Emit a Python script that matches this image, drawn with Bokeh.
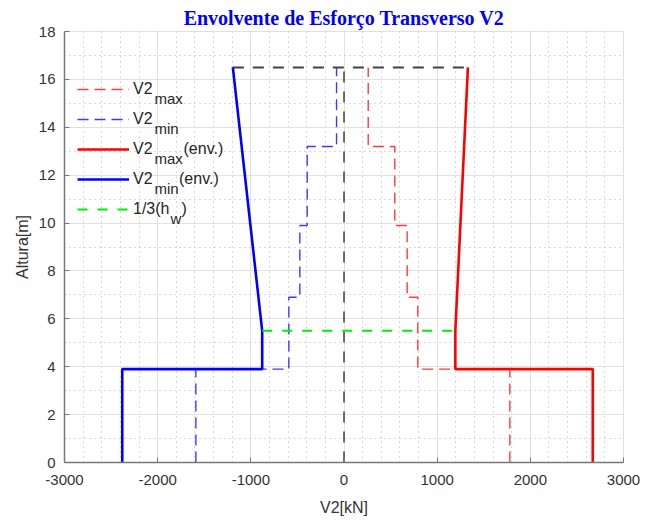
from bokeh.plotting import figure
from bokeh.models import Legend, LegendItem, Label, Range1d, SingleIntervalTicker
from bokeh.embed import file_html
from bokeh.resources import INLINE

# ---------------- data ----------------
storey_levels = [0.0, 3.9, 6.9, 9.9, 13.2, 16.5]      # Altura [m]
v2_max = [1780, 792, 678, 545, 260]                   # V2max per storey [kN]
v2_min = [-1590, -592, -474, -395, -80]               # V2min per storey [kN]
env_heights = [0.0, 3.9, 3.9, 5.5, 16.5]              # envelope heights [m]
env_max = [2670, 2670, 1195, 1195, 1330]              # V2max (env.) [kN]
env_min = [-2380, -2380, -878, -878, -1193]           # V2min (env.) [kN]
hw_third = 5.5                                        # 1/3(hw) [m]
x_ticks = [-3000, -2000, -1000, 0, 1000, 2000, 3000]
x_tick_labels = ["-3000", "-2000", "-1000", "0", "1000", "2000", "3000"]
y_ticks = [0, 2, 4, 6, 8, 10, 12, 14, 16, 18]
y_tick_labels = ["0", "2", "4", "6", "8", "10", "12", "14", "16", "18"]
title_text = "Envolvente de Esforço Transverso V2"
legend_main = ["V2", "V2", "V2", "V2", "1/3(h"]


def steps(vals, levels):
    xs, ys = [], []
    for i, v in enumerate(vals):
        xs += [v, v]
        ys += [levels[i], levels[i + 1]]
    return xs, ys


FONT = "Liberation Sans"
TXT = "#262626"
AX = "#777777"

p = figure(frame_width=559, frame_height=431,
           x_range=Range1d(x_ticks[0], x_ticks[-1]),
           y_range=Range1d(y_ticks[0], y_ticks[-1]),
           output_backend="svg", toolbar_location=None,
           min_border_left=64, min_border_right=30,
           min_border_top=31, min_border_bottom=60,
           background_fill_color="white", border_fill_color="white")

p.title.text = title_text
p.title.align = "center"
p.title.text_font = "Liberation Serif"
p.title.text_font_size = "20px"
p.title.text_font_style = "bold"
p.title.text_color = "#0000ff"
p.title.standoff = 5

# grid
for g in (p.xgrid, p.ygrid):
    g.grid_line_color = "#e2e2e2"
    g.grid_line_width = 1
    g.minor_grid_line_color = "#b5b5b5"
    g.minor_grid_line_dash = "1 4"
    g.minor_grid_line_width = 1

p.outline_line_color = "#e0e0e0"
p.outline_line_width = 1

p.xaxis.ticker = SingleIntervalTicker(interval=1000, num_minor_ticks=5)
p.yaxis.ticker = SingleIntervalTicker(interval=2, num_minor_ticks=2)
p.xaxis.major_label_overrides = {t: l for t, l in zip(x_ticks, x_tick_labels)}
p.yaxis.major_label_overrides = {t: l for t, l in zip(y_ticks, y_tick_labels)}
p.xaxis.axis_label = "V2[kN]"
p.yaxis.axis_label = "Altura[m]"
for ax in (p.xaxis, p.yaxis):
    ax.axis_line_color = AX
    ax.axis_line_width = 1.5
    ax.major_tick_line_color = AX
    ax.major_tick_in = 5
    ax.major_tick_out = 0
    ax.minor_tick_in = 0
    ax.minor_tick_out = 0
    ax.major_label_text_font = FONT
    ax.major_label_text_font_size = "15px"
    ax.major_label_text_color = "#333333"
    ax.axis_label_text_font = FONT
    ax.axis_label_text_font_size = "16px"
    ax.axis_label_text_font_style = "normal"
    ax.axis_label_text_color = "#333333"
p.xaxis.major_label_standoff = 12
p.yaxis.major_label_standoff = 9
p.xaxis.axis_label_standoff = 11
p.yaxis.axis_label_standoff = 5

# reference dashed lines (black)
top = storey_levels[-1]
p.line([env_min[-1], env_max[-1]], [top, top], line_color="#222222",
       line_width=2, line_dash="11 9", line_alpha=0.85)
p.line([0, 0], [storey_levels[0], top], line_color="#333333",
       line_width=2, line_dash="11 9", line_alpha=0.7)

mx, my = steps(v2_max, storey_levels)
nx, ny = steps(v2_min, storey_levels)
r_max = p.line(mx, my, line_color="#ff3b3b", line_width=1.4, line_dash="11 6")
r_min = p.line(nx, ny, line_color="#3b3bff", line_width=1.4, line_dash="11 6")
r_emax = p.line(env_max, env_heights, line_color="#ff0000", line_width=2.6)
r_emin = p.line(env_min, env_heights, line_color="#0000ff", line_width=2.6)
r_hw = p.line([env_min[3], env_max[3]], [hw_third, hw_third],
              line_color="#00ee00", line_width=2, line_dash="10 10")

renderers = [r_max, r_min, r_emax, r_emin, r_hw]
legend = Legend(items=[LegendItem(label=t, renderers=[r]) for t, r in zip(legend_main, renderers)],
                location=(13, 238), padding=0, margin=0, spacing=0,
                glyph_width=52, glyph_height=30, label_height=30, label_standoff=4,
                label_text_font=FONT, label_text_font_size="16px",
                label_text_color=TXT, label_text_baseline="alphabetic",
                border_line_alpha=0, background_fill_alpha=0)
p.add_layout(legend)

# subscripts and suffixes of legend texts (frame screen units)
def add_text(txt, x, y, size):
    p.add_layout(Label(x=x, y=y, x_units="screen", y_units="screen", text=txt,
                       text_font=FONT, text_font_size=size, text_color=TXT,
                       text_baseline="alphabetic", text_align="left"))

add_text("max", 90, 364, "15px")
add_text("min", 90, 334, "15px")
add_text("max", 90, 304, "15px")
add_text("(env.)", 119, 314, "16px")
add_text("min", 90, 274, "15px")
add_text("(env.)", 114.5, 284, "16px")
add_text("w", 106, 244, "15px")
add_text(")", 117, 254, "16px")

open("out.html", "w").write(file_html(p, INLINE))
